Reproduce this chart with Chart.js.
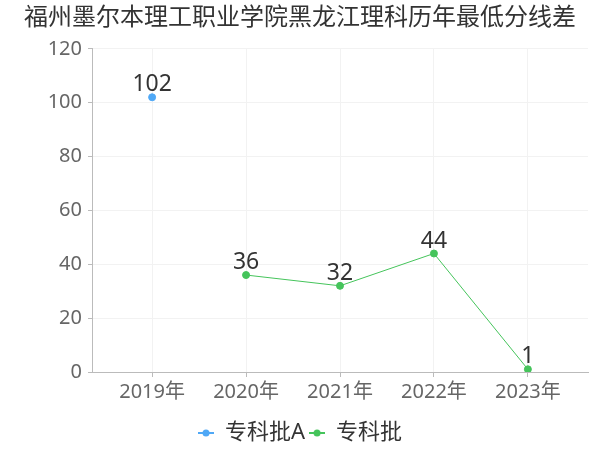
<!DOCTYPE html>
<html>
<head>
<meta charset="utf-8">
<script src="https://cdn.jsdelivr.net/npm/chart.js@4/dist/chart.umd.min.js"></script>
<style>
  body { margin: 0; background: #fff; }
  #wrap { width: 600px; height: 450px; }
</style>
</head>
<body>
<div id="wrap"><canvas id="myChart"></canvas></div>
<script>
const categories = ['2019年', '2020年', '2021年', '2022年', '2023年'];
const seriesA = [102, null, null, null, null];
const seriesB = [null, 36, 32, 44, 1];
const yTicks = [0, 20, 40, 60, 80, 100, 120];

const blue = '#4fa8f6';
const green = '#45c45b';
const fontFamily = '"Noto Sans", "Noto Sans CJK SC", sans-serif';

function toPoints(arr) {
  return arr.map((v, i) => ({ x: i, y: v }));
}

// little legend marker: short line with a dot
function marker(color) {
  const c = document.createElement('canvas');
  c.width = 16; c.height = 10;
  const g = c.getContext('2d');
  g.strokeStyle = color;
  g.lineWidth = 2;
  g.beginPath(); g.moveTo(0, 5); g.lineTo(16, 5); g.stroke();
  g.fillStyle = color;
  g.beginPath(); g.arc(8, 5, 3.5, 0, Math.PI * 2); g.fill();
  return c;
}

const valueLabels = {
  id: 'valueLabels',
  afterDatasetsDraw(chart) {
    const ctx = chart.ctx;
    ctx.save();
    ctx.font = '23px ' + fontFamily;
    ctx.fillStyle = '#333';
    ctx.textAlign = 'center';
    ctx.textBaseline = 'bottom';
    chart.data.datasets.forEach((ds, di) => {
      chart.getDatasetMeta(di).data.forEach((pt, i) => {
        const v = ds.data[i].y;
        if (v === null || v === undefined) return;
        ctx.fillText(String(v), pt.x, pt.y - 1);
      });
    });
    ctx.restore();
  }
};

const ctx = document.getElementById('myChart');

new Chart(ctx, {
  type: 'line',
  data: {
    datasets: [{
      label: '专科批A',
      data: toPoints(seriesA),
      borderColor: blue,
      backgroundColor: blue,
      borderWidth: 1,
      pointRadius: 3.5,
      pointHoverRadius: 3.5,
    }, {
      label: '专科批',
      data: toPoints(seriesB),
      borderColor: green,
      backgroundColor: green,
      borderWidth: 1,
      pointRadius: 3.5,
      pointHoverRadius: 3.5,
    }]
  },
  options: {
    responsive: true,
    maintainAspectRatio: false,
    animation: false,
    layout: { padding: { left: 12, right: 12, top: 4, bottom: -4 } },
    plugins: {
      title: {
        display: true,
        text: '福州墨尔本理工职业学院黑龙江理科历年最低分线差',
        color: '#333',
        font: { size: 24, family: fontFamily, weight: 'normal' },
        padding: { top: 0, bottom: 16 }
      },
      legend: {
        position: 'bottom',
        labels: {
          color: '#333',
          font: { size: 22, family: fontFamily },
          usePointStyle: true,
          boxWidth: 16,
          padding: 4,
          generateLabels(chart) {
            return chart.data.datasets.map((ds, i) => ({
              text: ds.label,
              fontColor: '#333',
              pointStyle: marker(ds.borderColor),
              datasetIndex: i,
              hidden: false,
              lineWidth: 0,
              strokeStyle: 'transparent',
              fillStyle: ds.borderColor,
            }));
          }
        }
      },
      tooltip: { enabled: false }
    },
    scales: {
      x: {
        type: 'linear',
        min: -0.64,
        max: 4.64,
        ticks: {
          stepSize: 1,
          includeBounds: false,
          color: '#666',
          font: { size: 20, family: fontFamily },
          callback: (v) => categories[v] || '',
          padding: 3,
        },
        grid: { color: '#f2f2f2', tickColor: '#bbb', tickLength: 5 },
        border: { color: '#bbb' },
        afterFit(scale) { scale.height = 46; }
      },
      y: {
        min: 0,
        max: 120,
        afterBuildTicks(scale) { scale.ticks = yTicks.map(v => ({ value: v })); },
        ticks: {
          color: '#666',
          font: { size: 20, family: fontFamily },
          padding: 6,
        },
        grid: { color: '#f2f2f2', tickColor: '#bbb', tickLength: 4 },
        border: { color: '#bbb' },
        afterFit(scale) { scale.width = 80; }
      }
    }
  },
  plugins: [valueLabels]
});
</script>
</body>
</html>
